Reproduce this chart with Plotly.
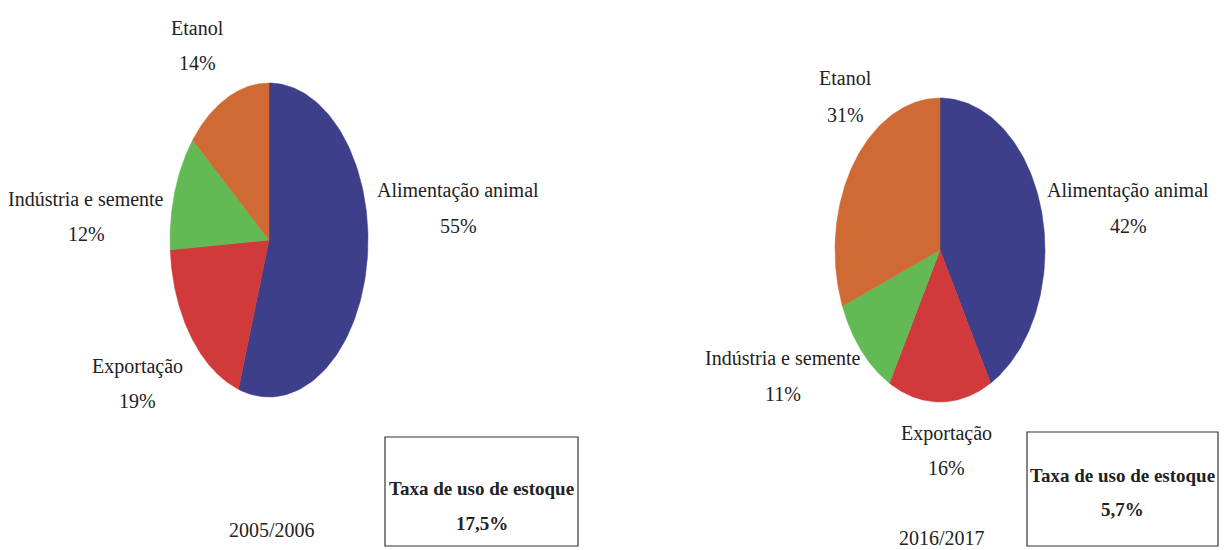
import numpy as np
import plotly.graph_objects as go

# dados
categorias = ["Alimentação animal", "Exportação", "Indústria e semente", "Etanol"]
safra_2005 = [55, 19, 12, 14]
safra_2016 = [42, 16, 11, 31]
periodos = ["2005/2006", "2016/2017"]
taxa_estoque = ["17,5%", "5,7%"]

cores = ["#3d3f8a", "#d03a3a", "#63b954", "#d06a35"]
fonte = "Liberation Serif"

# geometria (coordenadas em pixels da página)
pies = [
    dict(vals=safra_2005, cx=269, cy=240, rx=99, ry=157,
         labels=[(458, 190, 226), (137, 366, 401), (86, 199, 234), (197, 28, 63)],
         periodo=(272, 530), caixa=(385, 437, 578, 546), txt=(488, 523)),
    dict(vals=safra_2016, cx=940, cy=250, rx=105, ry=152,
         labels=[(1128, 190, 226), (946, 433, 468), (783, 358, 394), (845, 78, 115)],
         periodo=(942, 538), caixa=(1027, 432, 1218, 546), txt=(475, 509)),
]

fig = go.Figure()
annotations = []
shapes = []

for i, p in enumerate(pies):
    total = sum(p["vals"])
    start = 0.0
    for j, v in enumerate(p["vals"]):
        # fatias no sentido horário a partir do topo
        a0 = start / total * 2 * np.pi
        a1 = (start + v) / total * 2 * np.pi
        start += v
        t = np.linspace(a0, a1, 120)
        xs = np.concatenate([[p["cx"]], p["cx"] + p["rx"] * np.sin(t), [p["cx"]]])
        ys = np.concatenate([[p["cy"]], p["cy"] - p["ry"] * np.cos(t), [p["cy"]]])
        fig.add_trace(go.Scatter(
            x=xs, y=ys, mode="lines", fill="toself",
            fillcolor=cores[j], line=dict(color=cores[j], width=0.5),
            name=categorias[j], hoverinfo="text",
            text=f"{categorias[j]}: {v}%", showlegend=False,
        ))
        lx, ly1, ly2 = p["labels"][j]
        annotations.append(dict(x=lx, y=ly1, text=categorias[j], showarrow=False,
                                font=dict(family=fonte, size=20, color="#222")))
        annotations.append(dict(x=lx, y=ly2, text=f"{v}%", showarrow=False,
                                font=dict(family=fonte, size=20, color="#222")))

    px, py = p["periodo"]
    annotations.append(dict(x=px, y=py, text=periodos[i], showarrow=False,
                            font=dict(family=fonte, size=20, color="#222")))
    x0, y0, x1, y1 = p["caixa"]
    shapes.append(dict(type="rect", x0=x0, y0=y0, x1=x1, y1=y1,
                       line=dict(color="#333", width=1.2)))
    bx = (x0 + x1) / 2
    annotations.append(dict(x=bx, y=p["txt"][0], text="<b>Taxa de uso de estoque</b>",
                            showarrow=False, font=dict(family=fonte, size=19, color="#222")))
    annotations.append(dict(x=bx, y=p["txt"][1], text=f"<b>{taxa_estoque[i]}</b>",
                            showarrow=False, font=dict(family=fonte, size=19, color="#222")))

fig.update_layout(
    width=1229, height=550,
    margin=dict(l=0, r=0, t=0, b=0),
    paper_bgcolor="white", plot_bgcolor="white",
    xaxis=dict(range=[0, 1229], visible=False, fixedrange=True),
    yaxis=dict(range=[550, 0], visible=False, fixedrange=True),
    annotations=annotations, shapes=shapes,
)

# tira a margem padrão do body para o gráfico ocupar a janela inteira
fig.write_html("out.html", config={"displayModeBar": False},
               post_script="document.body.style.margin='0px';")
